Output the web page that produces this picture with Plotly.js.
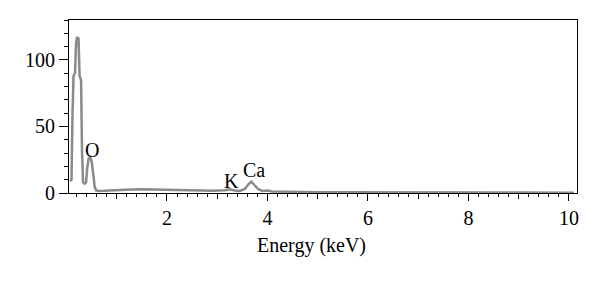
<!DOCTYPE html>
<html>
<head>
<meta charset="utf-8">
<script src="https://cdn.plot.ly/plotly-3.0.1.min.js"></script>
<style>html,body{margin:0;padding:0;background:#fff;}#chart{width:600px;height:282px;}</style>
</head>
<body>
<div id="chart"></div>
<script>
const energy = [0.07,0.10,0.12,0.14,0.17,0.19,0.21,0.24,0.26,0.29,0.31,0.33,0.36,0.39,0.41,0.44,0.47,0.50,0.53,0.56,0.59,0.65,0.75,0.9,1.1,1.3,1.5,1.7,1.9,2.1,2.3,2.5,2.7,2.9,3.05,3.15,3.25,3.35,3.45,3.55,3.62,3.68,3.74,3.82,3.9,4.0,4.1,4.3,4.6,5.0,5.5,6.0,7.0,8.0,9.0,10.1];
const counts = [9,10,60,88,90,112,117,116,88,85,30,8,7,8,18,26,27,24,15,5,2,1.5,1.6,2,2.3,2.6,2.9,2.8,2.7,2.5,2.3,2.0,1.8,1.6,1.6,2.0,2.8,1.8,1.5,3.0,6.5,8.5,6,2.8,1.5,1.8,1.2,1,0.8,0.6,0.5,0.4,0.3,0.3,0.3,0.2];
const peakLabels = ["O","K","Ca"];
const peakX = [0.51,3.29,3.73];
const peakY = [32,9,17];

const font = {family:"Liberation Serif, Times New Roman, serif", size:20, color:"#000"};

const traces = [
  {x:energy, y:counts, type:"scatter", mode:"lines", line:{color:"#8a8a8a", width:2.5}, hoverinfo:"skip", xaxis:"x", yaxis:"y"},
  {x:energy, y:counts, type:"scatter", mode:"markers", marker:{opacity:0}, hoverinfo:"skip", xaxis:"x2", yaxis:"y"}
];

const annotations = peakLabels.map((t,i)=>({x:peakX[i], y:peakY[i], xref:"x", yref:"y", text:t, showarrow:false, font:font, xanchor:"center", yanchor:"middle"}));
annotations.push({x:0.478, y:(193-245)/173, xref:"paper", yref:"paper", text:"Energy (keV)", showarrow:false, font:font, xanchor:"center", yanchor:"middle"});

const layout = {
  width:600, height:282,
  margin:{l:69, r:23, t:20, b:89},
  paper_bgcolor:"#fff", plot_bgcolor:"#fff",
  showlegend:false,
  font:font,
  xaxis:{range:[0.05,10.16], tick0:0, dtick:2, ticks:"outside", ticklen:7, tickwidth:1, tickcolor:"#000",
         showline:true, linecolor:"#000", linewidth:1, mirror:true, showgrid:false, zeroline:false,
         tickfont:font, minor:{dtick:0.2, tick0:0, ticks:"outside", ticklen:3, tickcolor:"#000", showgrid:false}},
  xaxis2:{range:[0.05,10.16], overlaying:"x", side:"bottom", tick0:1, dtick:2, ticks:"outside", ticklen:5, tickcolor:"#000",
          showticklabels:false, showgrid:false, zeroline:false, showline:false},
  yaxis:{range:[0,130], tick0:0, dtick:50, ticks:"outside", ticklen:9, tickwidth:1, tickcolor:"#000",
         showline:true, linecolor:"#000", linewidth:1, mirror:true, showgrid:false, zeroline:false,
         tickfont:font, minor:{dtick:10, tick0:0, ticks:"outside", ticklen:4, tickcolor:"#000", showgrid:false}},
  annotations:annotations
};
Plotly.newPlot("chart", traces, layout, {staticPlot:true, displayModeBar:false});
</script>
</body>
</html>
